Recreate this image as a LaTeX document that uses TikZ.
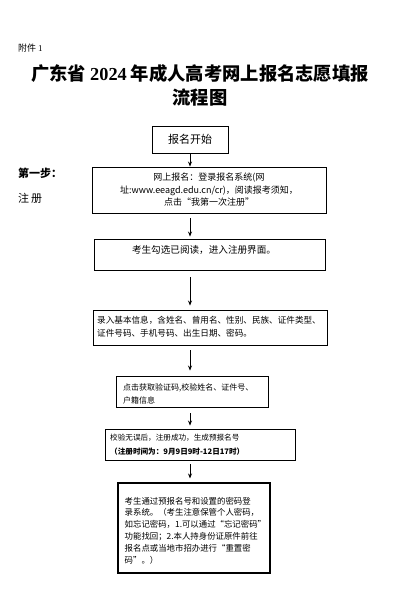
\documentclass[tikz,border=0pt]{standalone}
\usepackage{fontspec}
\setmainfont{Noto Sans CJK SC}
\newfontfamily\serifnum{Liberation Serif}
\usetikzlibrary{arrows.meta}
\tikzset{
  box/.style={draw=black, line width=0.9pt, inner sep=0pt},
  txt/.style={inner sep=0pt, align=left},
  arr/.style={draw=black, line width=0.7pt, -{Stealth[length=5pt,width=4pt]}},
}
\begin{document}
\begin{tikzpicture}[x=1pt,y=-1pt]
\useasboundingbox (0,0) rectangle (400,607);
\fill[white] (0,0) rectangle (400,607);
\coordinate (ax) at (190,0);
% header
\node[txt, anchor=west, font=\fontsize{9}{10}\selectfont] (att) at (18,48) {附件 {\serifnum 1}};
\node[txt, align=center, font=\fontsize{18.3}{24}\selectfont\bfseries] (title) at (200,85) {广东省 {\serifnum 2024} 年成人高考网上报名志愿填报\\流程图};
% left labels
\node[txt, anchor=west, font=\fontsize{11}{12}\selectfont\bfseries] (step) at (18,173) {第一步：};
\node[txt, anchor=west, font=\fontsize{11}{12}\selectfont] (reg) at (18,198) {注\,册};
% boxes
\node[box, minimum width=76, minimum height=27, font=\fontsize{11}{12}\selectfont] (b1) at (190,139.5) {报名开始};
\node[box, minimum width=234, minimum height=46, align=center, font=\fontsize{9}{12.5}\selectfont] (b2) at (209,190) {网上报名：登录报名系统(网\\址:www.eeagd.edu.cn/cr)，阅读报考须知，\\点击“我第一次注册”};
\node[box, minimum width=231, minimum height=31] (b3) at (209.5,254.5) {};
\node[txt, font=\fontsize{9.6}{11}\selectfont] (t3) at (204,250) {考生勾选已阅读，进入注册界面。};
\node[box, minimum width=234, minimum height=35] (b4) at (210,327.5) {};
\node[txt, anchor=west, font=\fontsize{8.6}{12.5}\selectfont] (t4) at (97,326.5) {录入基本信息，含姓名、曾用名、性别、民族、证件类型、\\证件号码、手机号码、出生日期、密码。};
\node[box, minimum width=152, minimum height=31] (b5) at (192,391.5) {};
\node[txt, anchor=west, font=\fontsize{8}{13}\selectfont] (t5) at (123,393.5) {点击获取验证码,校验姓名、证件号、\\户籍信息};
\node[box, minimum width=190, minimum height=31] (b6) at (200,444.5) {};
\node[txt, anchor=west, font=\fontsize{7.6}{14}\selectfont] (t6) at (110,445) {校验无误后，注册成功，生成预报名号\\{\bfseries（注册时间为：9月9日9时-12日17时）}};
\node[box, line width=1.1pt, minimum width=152, minimum height=90] (b7) at (194,528) {};
\node[txt, anchor=west, font=\fontsize{8.4}{11.8}\selectfont] (t7) at (124.5,530.5) {考生通过预报名号和设置的密码登\\录系统。（考生注意保管个人密码，\\如忘记密码，1.可以通过“忘记密码”\\功能找回；2.本人持身份证原件前往\\报名点或当地市招办进行“重置密\\码”。）};
% arrows
\draw[arr] (b1.south -| ax) -- (b2.north -| ax);
\draw[arr, shorten <=5pt, shorten >=2pt] (b2.south -| ax) -- (b3.north -| ax);
\draw[arr, shorten <=7pt, shorten >=4pt] (b3.south -| ax) -- (b4.north -| ax);
\draw[arr, shorten <=5pt, shorten >=5pt] (b4.south -| ax) -- (b5.north -| ax);
\draw[arr, shorten <=6pt, shorten >=3pt] (b5.south -| ax) -- (b6.north -| ax);
\draw[arr, shorten <=4pt, shorten >=4pt] (b6.south -| ax) -- (b7.north -| ax);
\end{tikzpicture}
\end{document}
